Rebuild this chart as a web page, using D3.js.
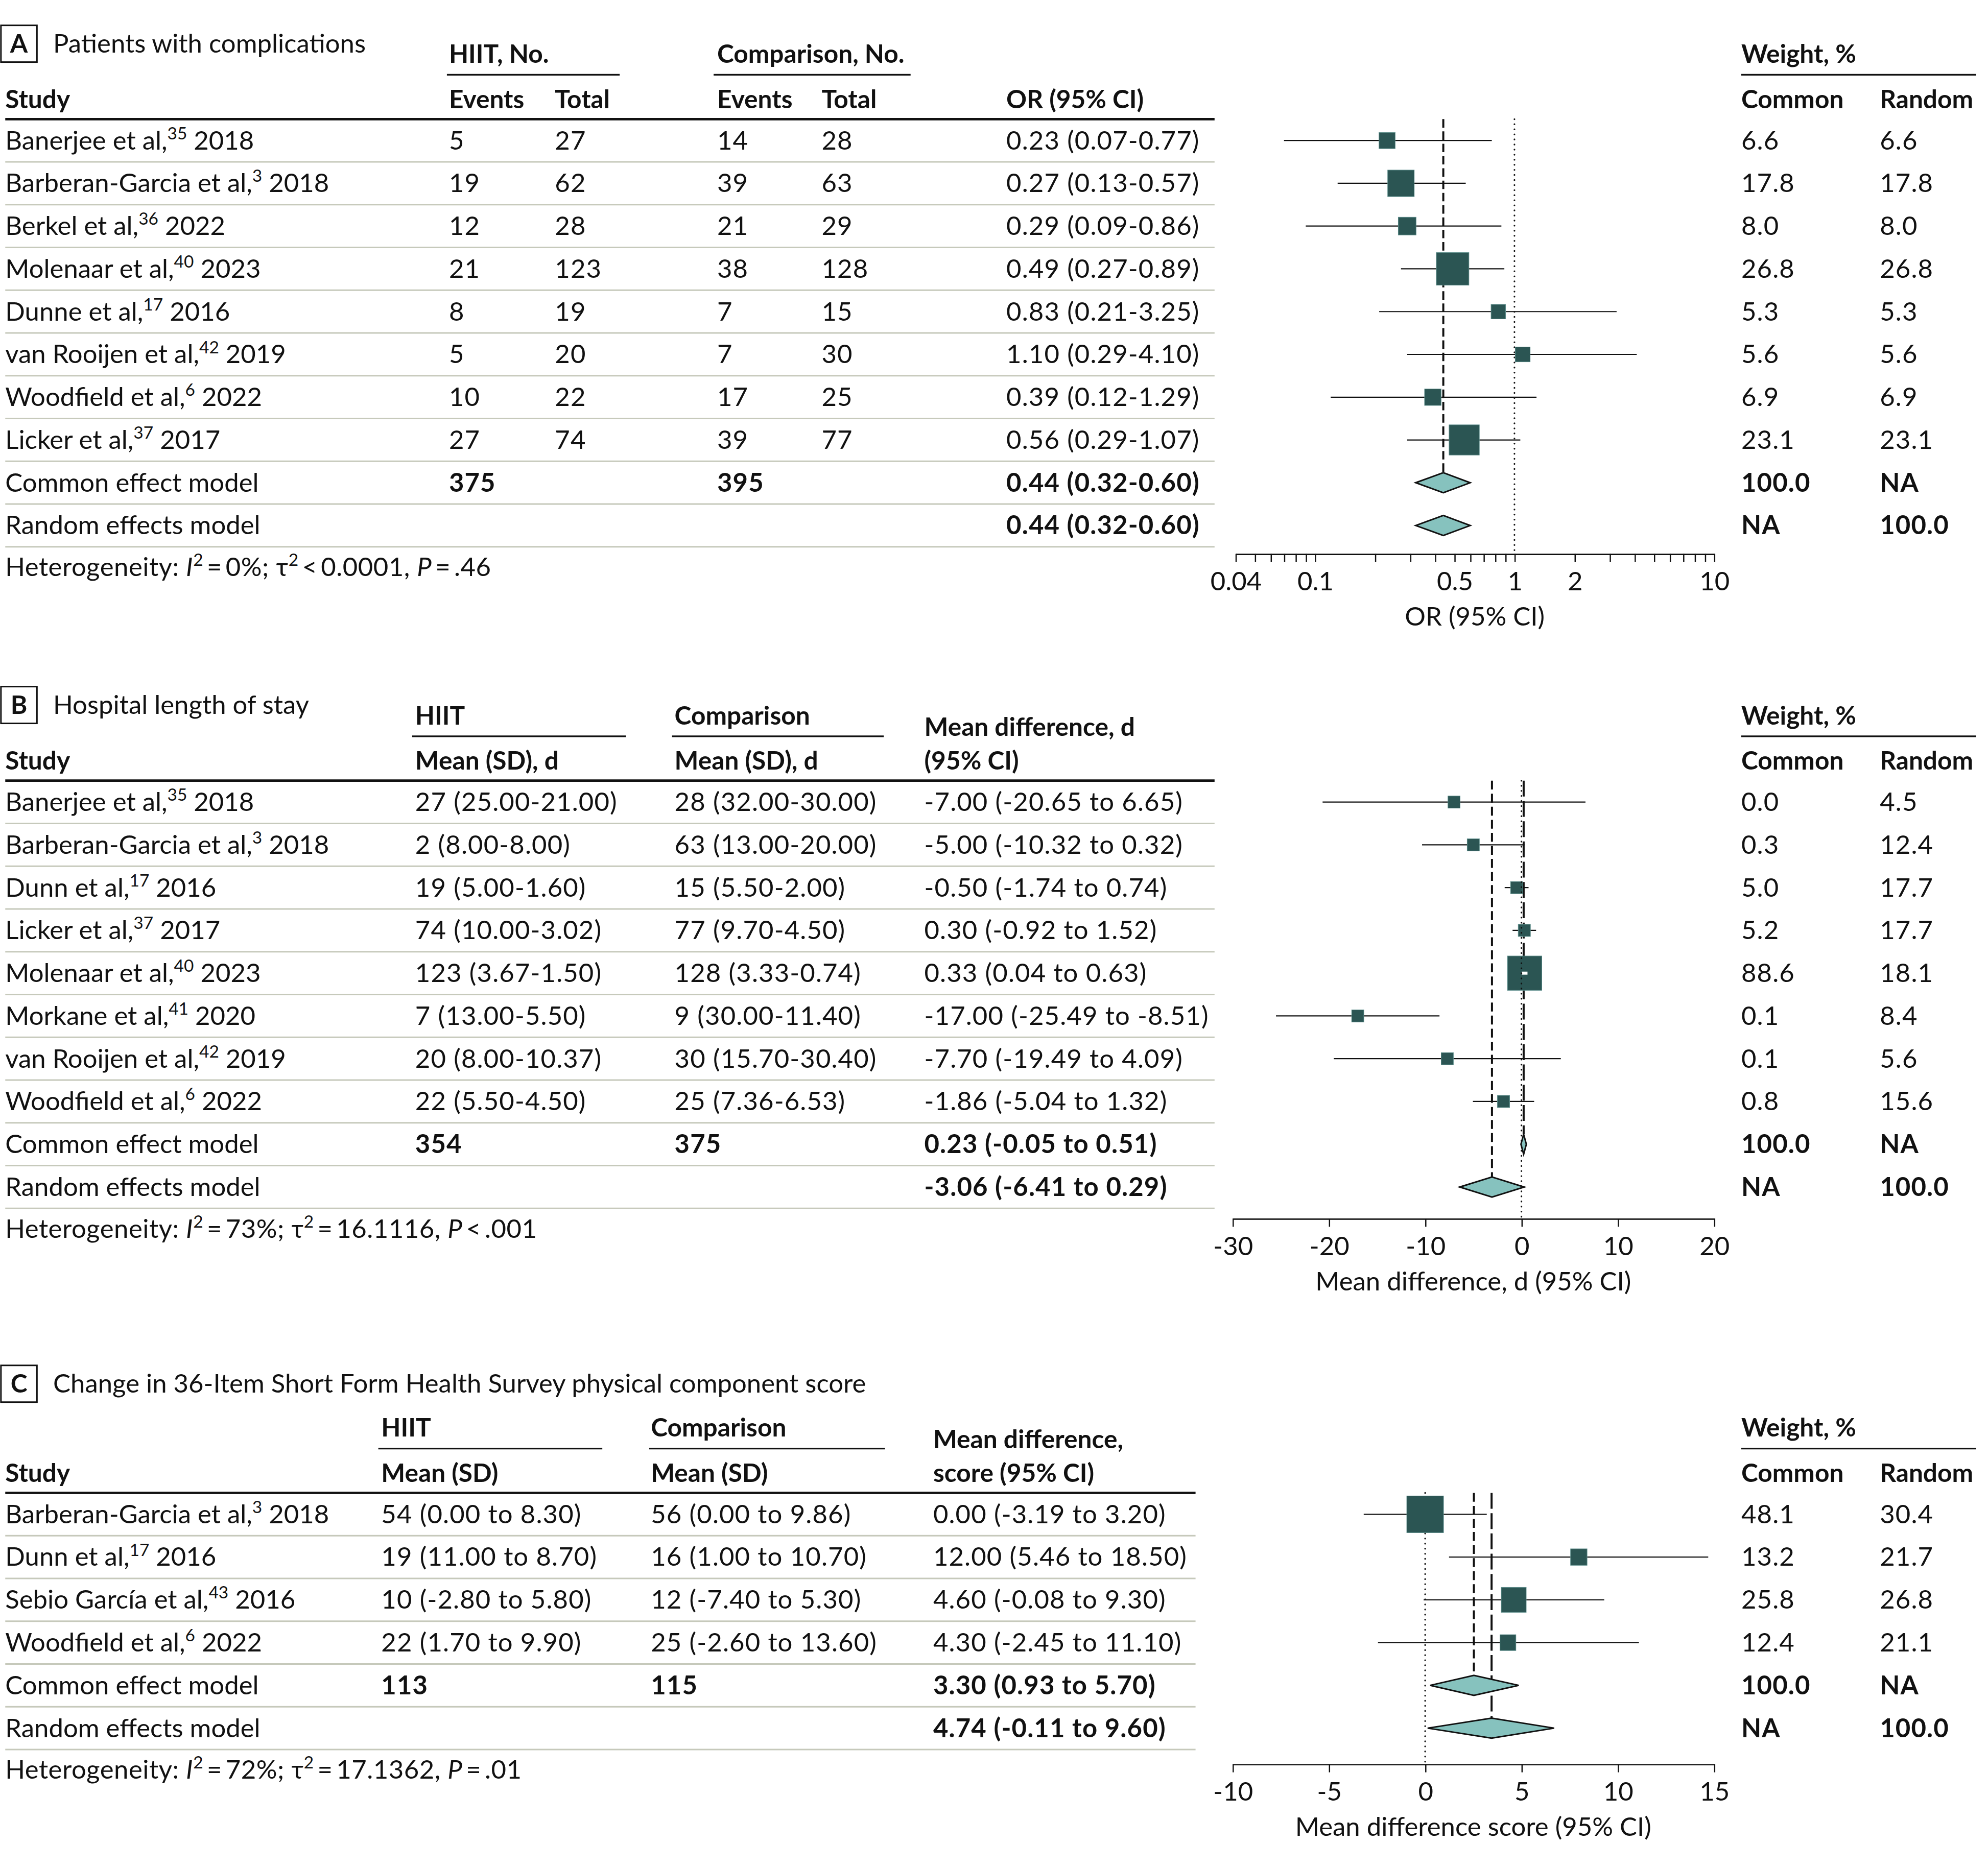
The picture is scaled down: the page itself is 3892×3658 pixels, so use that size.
<!DOCTYPE html>
<html>
<head>
<meta charset="utf-8">
<script src="https://cdn.jsdelivr.net/npm/d3@7"></script>
<style>
  body { margin: 0; background: #fff; }
  text { font-family: Lato, "Liberation Sans", sans-serif; fill: #111; }
</style>
</head>
<body>
<script>
// ---- Panel A: patients with complications ----
const aAuthors = ["Banerjee et al,", "Barberan-Garcia et al,", "Berkel et al,", "Molenaar et al,", "Dunne et al,", "van Rooijen et al,", "Woodfield et al,", "Licker et al,"];
const aRefs = ["35", "3", "36", "40", "17", "42", "6", "37"];
const aYears = [2018, 2018, 2022, 2023, 2016, 2019, 2022, 2017];
const aHiitEvents = [5, 19, 12, 21, 8, 5, 10, 27];
const aHiitTotal = [27, 62, 28, 123, 19, 20, 22, 74];
const aCompEvents = [14, 39, 21, 38, 7, 7, 17, 39];
const aCompTotal = [28, 63, 29, 128, 15, 30, 25, 77];
const aOR = [0.23, 0.27, 0.29, 0.49, 0.83, 1.10, 0.39, 0.56];
const aLo = [0.07, 0.13, 0.09, 0.27, 0.21, 0.29, 0.12, 0.29];
const aHi = [0.77, 0.57, 0.86, 0.89, 3.25, 4.10, 1.29, 1.07];
const aWCommon = [6.6, 17.8, 8.0, 26.8, 5.3, 5.6, 6.9, 23.1];
const aWRandom = [6.6, 17.8, 8.0, 26.8, 5.3, 5.6, 6.9, 23.1];
const aTotals = [375, 395];
const aCommon = [0.44, 0.32, 0.60];
const aRandom = [0.44, 0.32, 0.60];
const aHet = ["=\u20090%", "<\u20090.0001", "=\u2009.46"];
const aTicks = [0.04, 0.05, 0.06, 0.07, 0.08, 0.09, 0.1, 0.2, 0.3, 0.4, 0.5, 0.6, 0.7, 0.8, 0.9, 1, 2, 3, 4, 5, 6, 7, 8, 9, 10];
const aTickLabels = [0.04, 0.1, 0.5, 1, 2, 10];

// ---- Panel B: hospital length of stay ----
const bAuthors = ["Banerjee et al,", "Barberan-Garcia et al,", "Dunn et al,", "Licker et al,", "Molenaar et al,", "Morkane et al,", "van Rooijen et al,", "Woodfield et al,"];
const bRefs = ["35", "3", "17", "37", "40", "41", "42", "6"];
const bYears = [2018, 2018, 2016, 2017, 2023, 2020, 2019, 2022];
const bHiit = ["27 (25.00-21.00)", "2 (8.00-8.00)", "19 (5.00-1.60)", "74 (10.00-3.02)", "123 (3.67-1.50)", "7 (13.00-5.50)", "20 (8.00-10.37)", "22 (5.50-4.50)"];
const bComp = ["28 (32.00-30.00)", "63 (13.00-20.00)", "15 (5.50-2.00)", "77 (9.70-4.50)", "128 (3.33-0.74)", "9 (30.00-11.40)", "30 (15.70-30.40)", "25 (7.36-6.53)"];
const bMD = [-7.00, -5.00, -0.50, 0.30, 0.33, -17.00, -7.70, -1.86];
const bLo = [-20.65, -10.32, -1.74, -0.92, 0.04, -25.49, -19.49, -5.04];
const bHi = [6.65, 0.32, 0.74, 1.52, 0.63, -8.51, 4.09, 1.32];
const bWCommon = [0.0, 0.3, 5.0, 5.2, 88.6, 0.1, 0.1, 0.8];
const bWRandom = [4.5, 12.4, 17.7, 17.7, 18.1, 8.4, 5.6, 15.6];
const bTotals = [354, 375];
const bCommon = [0.23, -0.05, 0.51];
const bRandom = [-3.06, -6.41, 0.29];
const bHet = ["=\u200973%", "=\u200916.1116", "<\u2009.001"];
const bTicks = [-30, -20, -10, 0, 10, 20];

// ---- Panel C: SF-36 physical component score ----
const cAuthors = ["Barberan-Garcia et al,", "Dunn et al,", "Sebio García et al,", "Woodfield et al,"];
const cRefs = ["3", "17", "43", "6"];
const cYears = [2018, 2016, 2016, 2022];
const cHiit = ["54 (0.00 to 8.30)", "19 (11.00 to 8.70)", "10 (-2.80 to 5.80)", "22 (1.70 to 9.90)"];
const cComp = ["56 (0.00 to 9.86)", "16 (1.00 to 10.70)", "12 (-7.40 to 5.30)", "25 (-2.60 to 13.60)"];
const cMD = [0.00, 12.00, 4.60, 4.30];
const cLo = [-3.19, 5.46, -0.08, -2.45];
const cHi = [3.20, 18.50, 9.30, 11.10];
// positions as drawn in the plot (they differ from the printed values for some rows)
const cPlotMD = [0.00, 7.98, 4.60, 4.30];
const cPlotLo = [-3.19, 1.24, -0.08, -2.45];
const cPlotHi = [3.20, 14.70, 9.30, 11.10];
const cWCommon = [48.1, 13.2, 25.8, 12.4];
const cWRandom = [30.4, 21.7, 26.8, 21.1];
const cTotals = [113, 115];
const cCommon = [3.30, 0.93, 5.70];
const cRandom = [4.74, -0.11, 9.60];
const cPlotCommon = [2.53, 0.26, 4.86];
const cPlotRandom = [3.45, 0.13, 6.70];
const cHet = ["=\u200972%", "=\u200917.1362", "=\u2009.01"];
const cTicks = [-10, -5, 0, 5, 10, 15];

const ROW = 33.75;
const FS = 20;      // headers, axis
const BODY = 20.5;  // table body text
const SEP = "#c6c9bb";
const SQ = "#2b5553";
const DIA = "#86c2be";

const svg = d3.select("body").append("svg")
  .attr("width", 3892).attr("height", 3658)
  .attr("viewBox", "0 0 1568 1474");

function txt(g, x, y, s, bold, size) {
  return g.append("text").attr("x", x).attr("y", y)
    .attr("font-size", size || FS).attr("font-weight", bold ? 700 : 400).text(s);
}

function hline(g, x1, x2, y, w, c) {
  g.append("line").attr("x1", x1).attr("x2", x2).attr("y1", y).attr("y2", y)
    .attr("stroke", c || "#111").attr("stroke-width", w);
}

function studyLabel(g, x, y, name, ref, year) {
  const t = g.append("text").attr("x", x).attr("y", y).attr("font-size", BODY);
  t.append("tspan").text(name);
  t.append("tspan").attr("font-size", 13.5).attr("dy", -8).text(ref);
  t.append("tspan").attr("dy", 8).text(" " + year);
}

function fmtCI(v, sep) {
  return `${v[0].toFixed(2)} (${v[1].toFixed(2)}${sep}${v[2].toFixed(2)})`;
}

function drawTable(p) {
  const g = svg.append("g");
  const top = p.top;
  const rowY = i => top + 16.9 + ROW * i + 7;

  // panel letter and title
  g.append("rect").attr("x", 0.6).attr("y", p.titleY - 21.6)
    .attr("width", 28.4).attr("height", 29)
    .attr("fill", "none").attr("stroke", "#111").attr("stroke-width", 1.2);
  txt(g, 14.8, p.titleY, p.letter, true).attr("text-anchor", "middle");
  txt(g, 41.8, p.titleY, p.title, false, BODY);

  // spanning headers
  p.groups.forEach(([label, x, x1, x2]) => {
    txt(g, x, top - 44.3, label, true);
    hline(g, x1, x2, top - 35, 1.3);
  });
  txt(g, 1373.5, top - 44.3, "Weight, %", true);
  hline(g, 1373.5, 1558.8, top - 35, 1.3);

  // column headers (one or two lines)
  p.heads.forEach(([label, x]) => {
    const lines = Array.isArray(label) ? label : [label];
    lines.forEach((l, k) => txt(g, x, top - 8.7 - 26.5 * (lines.length - 1 - k), l, true));
  });
  txt(g, 1373.5, top - 8.7, "Common", true);
  txt(g, 1482.8, top - 8.7, "Random", true);

  // rules
  hline(g, 4, p.tableRight, top, 1.9);
  p.rows.forEach((r, i) => hline(g, 4, p.tableRight, top + ROW * (i + 1), 1.2, SEP));

  // rows
  p.rows.forEach((r, i) => {
    const y = rowY(i);
    if (r.study) studyLabel(g, 4, y, r.study[0], r.study[1], r.study[2]);
    else txt(g, 4, y, r.label, false, BODY);
    r.cells.forEach(([x, s, bold]) =>
      txt(g, x, y, s, bold, BODY).attr("letter-spacing", 0.45));
  });

  // heterogeneity
  const h = g.append("text").attr("x", 4).attr("y", top + ROW * p.rows.length + 23.1)
    .attr("font-size", BODY).attr("letter-spacing", 0.2);
  h.append("tspan").text("Heterogeneity: ");
  h.append("tspan").attr("font-style", "italic").text("I");
  h.append("tspan").attr("font-size", 13.5).attr("dy", -8).text("2");
  h.append("tspan").attr("dy", 8).text("\u2009" + p.het[0] + "; \u03c4");
  h.append("tspan").attr("font-size", 13.5).attr("dy", -8).text("2");
  h.append("tspan").attr("dy", 8).text("\u2009" + p.het[1] + ", ");
  h.append("tspan").attr("font-style", "italic").text("P");
  h.append("tspan").text("\u2009" + p.het[2]);
}

function drawForest(f) {
  const g = svg.append("g");
  const top = f.top;
  const cy = i => top + 16.9 + ROW * i;
  const x = f.x;
  const halfD = 7.9;

  const ref = () => g.append("line")
    .attr("x1", x(f.ref)).attr("x2", x(f.ref))
    .attr("y1", top).attr("y2", f.axisY)
    .attr("stroke", "#111").attr("stroke-width", 1.3)
    .attr("stroke-linecap", "round").attr("stroke-dasharray", "0.1,3.9");
  if (!f.refOnTop) ref();

  f.vlines.forEach(v => {
    g.append("line")
      .attr("x1", x(v.value)).attr("x2", x(v.value))
      .attr("y1", top).attr("y2", cy(v.row) - halfD)
      .attr("stroke", "#111").attr("stroke-width", 1.6)
      .attr("stroke-dasharray", v.dash);
  });

  // study CIs and squares
  f.est.forEach((e, i) => {
    const y = cy(i);
    const s = f.size(f.weight[i]);
    g.append("line").attr("x1", x(f.lo[i])).attr("x2", x(f.hi[i]))
      .attr("y1", y).attr("y2", y).attr("stroke", "#111").attr("stroke-width", 0.9);
    g.append("rect").attr("x", x(e) - s / 2).attr("y", y - s / 2)
      .attr("width", s).attr("height", s)
      .attr("fill", SQ).attr("stroke", "#5e8f8c").attr("stroke-width", 0.4);
    if (x(f.hi[i]) - x(f.lo[i]) < s) {
      g.append("line").attr("x1", x(f.lo[i])).attr("x2", x(f.hi[i]))
        .attr("y1", y).attr("y2", y).attr("stroke", "#fff").attr("stroke-width", 2.4);
    }
  });

  // pooled diamonds
  f.pooled.forEach(d => {
    const y = cy(d.row);
    const pts = [[x(d.v[1]), y], [x(d.v[0]), y - halfD], [x(d.v[2]), y], [x(d.v[0]), y + halfD]];
    g.append("path").attr("d", "M" + pts.join("L") + "Z")
      .attr("fill", DIA).attr("stroke", "#111").attr("stroke-width", 1.2)
      .attr("stroke-linejoin", "miter");
  });

  if (f.refOnTop) ref();

  // axis
  const ax = g.append("g").attr("transform", `translate(0,${f.axisY})`)
    .call(d3.axisBottom(x).tickValues(f.ticks).tickFormat(f.fmt)
      .tickSize(6.5).tickSizeOuter(0).tickPadding(7.8));
  ax.attr("font-size", FS);
  ax.select(".domain").attr("stroke", "#111").attr("stroke-width", 1.1);
  ax.selectAll(".tick line").attr("stroke", "#111").attr("stroke-width", 1);
  ax.selectAll(".tick text").attr("font-size", BODY).attr("fill", "#111");

  g.append("text").attr("x", (x.range()[0] + x.range()[1]) / 2).attr("y", f.axisY + 56.6)
    .attr("text-anchor", "middle").attr("font-size", BODY).text(f.title);
}

// ================= Panel A =================
(function () {
  const top = 94;
  const rows = aOR.map((v, i) => ({
    study: [aAuthors[i], aRefs[i], aYears[i]],
    cells: [[354, aHiitEvents[i]], [437.6, aHiitTotal[i]], [565.6, aCompEvents[i]], [648, aCompTotal[i]],
      [793.7, fmtCI([v, aLo[i], aHi[i]], "-")],
      [1373.5, aWCommon[i].toFixed(1)], [1482.8, aWRandom[i].toFixed(1)]]
  }));
  rows.push({ label: "Common effect model",
    cells: [[354, aTotals[0], 1], [565.6, aTotals[1], 1], [793.7, fmtCI(aCommon, "-"), 1],
      [1373.5, "100.0", 1], [1482.8, "NA", 1]] });
  rows.push({ label: "Random effects model",
    cells: [[793.7, fmtCI(aRandom, "-"), 1], [1373.5, "NA", 1], [1482.8, "100.0", 1]] });

  drawTable({
    letter: "A", title: "Patients with complications", titleY: 41.6, top, tableRight: 958,
    groups: [["HIIT, No.", 354, 352.4, 488.7], ["Comparison, No.", 565.6, 562.8, 718.2]],
    heads: [["Study", 4], ["Events", 354], ["Total", 437.6], ["Events", 565.6], ["Total", 648], ["OR (95% CI)", 793.7]],
    rows, het: aHet
  });

  const size = d3.scaleSqrt().domain([0, d3.max(aWCommon)]).range([0, 25.7]);
  drawForest({
    top, axisY: 437,
    x: d3.scaleLog().domain([0.04, 10]).range([974.5, 1352]),
    ticks: aTicks, fmt: d => aTickLabels.includes(d) ? String(d) : "",
    title: "OR (95% CI)", ref: 1,
    est: aOR, lo: aLo, hi: aHi, weight: aWCommon, size: w => size(w),
    pooled: [{ v: aCommon, row: 8 }, { v: aRandom, row: 9 }],
    vlines: [{ value: aCommon[0], dash: "6.7,3", row: 8 }]
  });
})();

// ================= Panel B =================
(function () {
  const top = 616;
  const rows = bMD.map((v, i) => ({
    study: [bAuthors[i], bRefs[i], bYears[i]],
    cells: [[327.4, bHiit[i]], [532, bComp[i]], [729, fmtCI([v, bLo[i], bHi[i]], " to ")],
      [1373.5, bWCommon[i].toFixed(1)], [1482.8, bWRandom[i].toFixed(1)]]
  }));
  rows.push({ label: "Common effect model",
    cells: [[327.4, bTotals[0], 1], [532, bTotals[1], 1], [729, fmtCI(bCommon, " to "), 1],
      [1373.5, "100.0", 1], [1482.8, "NA", 1]] });
  rows.push({ label: "Random effects model",
    cells: [[729, fmtCI(bRandom, " to "), 1], [1373.5, "NA", 1], [1482.8, "100.0", 1]] });

  drawTable({
    letter: "B", title: "Hospital length of stay", titleY: 563.4, top, tableRight: 958,
    groups: [["HIIT", 327.4, 325, 493.7], ["Comparison", 532, 530, 697]],
    heads: [["Study", 4], ["Mean (SD), d", 327.4], ["Mean (SD), d", 532], [["Mean difference, d", "(95% CI)"], 729]],
    rows, het: bHet
  });

  const size = d3.scaleSqrt().domain([0, d3.max(bWCommon)]).range([0, 27.1]);
  drawForest({
    top, axisY: 961.5,
    x: d3.scaleLinear().domain([-30, 20]).range([972.2, 1352]),
    ticks: bTicks, fmt: d => String(d),
    title: "Mean difference, d (95% CI)", ref: 0, refOnTop: true,
    est: bMD, lo: bLo, hi: bHi, weight: bWCommon, size: w => Math.max(9.6, size(w)),
    pooled: [{ v: bCommon, row: 8 }, { v: bRandom, row: 9 }],
    vlines: [{ value: bCommon[0], dash: "12.5,3.5", row: 8 }, { value: bRandom[0], dash: "7,3.3", row: 9 }]
  });
})();

// ================= Panel C =================
(function () {
  const top = 1178;
  const rows = cMD.map((v, i) => ({
    study: [cAuthors[i], cRefs[i], cYears[i]],
    cells: [[300.6, cHiit[i]], [513.3, cComp[i]], [736, fmtCI([v, cLo[i], cHi[i]], " to ")],
      [1373.5, cWCommon[i].toFixed(1)], [1482.8, cWRandom[i].toFixed(1)]]
  }));
  rows.push({ label: "Common effect model",
    cells: [[300.6, cTotals[0], 1], [513.3, cTotals[1], 1], [736, fmtCI(cCommon, " to "), 1],
      [1373.5, "100.0", 1], [1482.8, "NA", 1]] });
  rows.push({ label: "Random effects model",
    cells: [[736, fmtCI(cRandom, " to "), 1], [1373.5, "NA", 1], [1482.8, "100.0", 1]] });

  drawTable({
    letter: "C", title: "Change in 36-Item Short Form Health Survey physical component score",
    titleY: 1099, top, tableRight: 943,
    groups: [["HIIT", 300.6, 298.3, 475], ["Comparison", 513.3, 512, 698]],
    heads: [["Study", 4], ["Mean (SD)", 300.6], ["Mean (SD)", 513.3], [["Mean difference,", "score (95% CI)"], 736]],
    rows, het: cHet
  });

  const size = d3.scalePow().exponent(0.62).domain([0, d3.max(cWCommon)]).range([0, 29]);
  drawForest({
    top, axisY: 1392,
    x: d3.scaleLinear().domain([-10, 15]).range([972.2, 1352]),
    ticks: cTicks, fmt: d => String(d),
    title: "Mean difference score (95% CI)", ref: 0,
    est: cPlotMD, lo: cPlotLo, hi: cPlotHi, weight: cWCommon, size: w => size(w),
    pooled: [{ v: cPlotCommon, row: 4 }, { v: cPlotRandom, row: 5 }],
    vlines: [{ value: cPlotCommon[0], dash: "7,3.3", row: 4 }, { value: cPlotRandom[0], dash: "12.5,3.5", row: 5 }]
  });
})();
</script>
</body>
</html>
